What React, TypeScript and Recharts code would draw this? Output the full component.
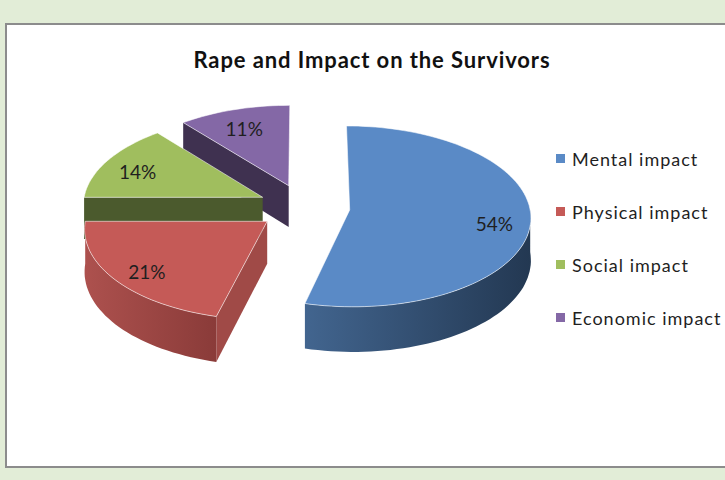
import { Legend, Pie, PieChart } from 'recharts'

// Excel-style exploded 3D pie. Recharts only gives flat sectors, so the pie
// computes the angles and the label renderers project each slice onto a tilted plane.
const categories = ['Mental impact', 'Physical impact', 'Social impact', 'Economic impact']
const shares = [54, 21, 14, 11]

const TOP_COLORS = ['#5A8AC6', '#C55A57', '#A0BE5E', '#8468A6']
const WALL_LIGHT = ['#42658F', '#AD514E', '#55663A', '#4A3A5E']
const WALL_DARK = ['#233852', '#8A3B39', '#44522A', '#3A2D4A']
const EDGE_COLORS = ['#2F4A6E', '#A04A47', '#4B5A2D', '#3F3150']

const data = categories.map((name, i) => ({ name, value: shares[i], idx: i }))
// same slices, walked the other way round, so the walls are painted back to front
const sideData = [...data].reverse()

const CX = 304
const CY = 207
const R = 180
const TILT = 0.5
const PERSP = 0.0004
const DEPTH = 42
const EXPLODE = 46
const RAD = Math.PI / 180
const FONT = "Lato, 'Open Sans', sans-serif"

type Pt = [number, number]

function project(cx: number, cy: number, x: number, y: number, z: number): Pt {
  const s = 1 + PERSP * y
  return [cx + x * s, cy + (y * TILT + z) * s]
}

function toPath(pts: Pt[]): string {
  return pts.map((p, i) => `${i ? 'L' : 'M'}${p[0].toFixed(1)},${p[1].toFixed(1)}`).join('') + 'Z'
}

function sliceIndex(props: any): number {
  if (props.payload && typeof props.payload.idx === 'number') return props.payload.idx
  if (typeof props.idx === 'number') return props.idx
  return props.index
}

function sliceGeometry(props: any) {
  const { cx, cy, outerRadius: r } = props
  const hi = Math.max(props.startAngle, props.endAngle)
  const lo = Math.min(props.startAngle, props.endAngle)
  const mid = ((hi + lo) / 2) * RAD
  const ox = EXPLODE * Math.cos(mid)
  const oy = -EXPLODE * Math.sin(mid)
  const onRim = (a: number, z: number) =>
    project(cx, cy, ox + r * Math.cos(a * RAD), oy - r * Math.sin(a * RAD), z)
  const arc = (from: number, to: number, z: number) => {
    const n = Math.max(2, Math.ceil(Math.abs(to - from) / 2))
    const pts: Pt[] = []
    for (let k = 0; k <= n; k++) pts.push(onRim(from + ((to - from) * k) / n, z))
    return pts
  }
  const center = (z: number) => project(cx, cy, ox, oy, z)
  return { hi, lo, r, ox, oy, mid, onRim, arc, center }
}

function renderSides(props: any) {
  const i = sliceIndex(props)
  const g = sliceGeometry(props)
  const walls = []
  // radial walls that face the viewer
  const radial = (a: number) => [g.center(0), g.onRim(a, 0), g.onRim(a, DEPTH), g.center(DEPTH)] as Pt[]
  if (Math.cos(g.hi * RAD) < -0.01) walls.push(<path key="w0" d={toPath(radial(g.hi))} fill={EDGE_COLORS[i]} />)
  if (Math.cos(g.lo * RAD) > 0.01) walls.push(<path key="w1" d={toPath(radial(g.lo))} fill={EDGE_COLORS[i]} />)
  // outer rim: only the front half of the turn
  for (const [fLo, fHi] of [
    [-180, 0],
    [180, 360],
  ]) {
    const top = Math.min(g.hi, fHi)
    const bottom = Math.max(g.lo, fLo)
    if (top > bottom) {
      const pts = [...g.arc(top, bottom, 0), ...g.arc(bottom, top, DEPTH)]
      walls.push(<path key={`rim${fLo}`} d={toPath(pts)} fill={`url(#rim-${i})`} />)
    }
  }
  return (
    <g key={`side-${i}`}>
      <defs>
        <linearGradient id={`rim-${i}`} x1="0" y1="0" x2="1" y2="0">
          <stop offset="0%" stopColor={WALL_LIGHT[i]} />
          <stop offset="100%" stopColor={WALL_DARK[i]} />
        </linearGradient>
      </defs>
      {walls}
    </g>
  )
}

function renderTop(props: any) {
  const i = sliceIndex(props)
  const g = sliceGeometry(props)
  const face = [g.center(0), ...g.arc(g.hi, g.lo, 0)]
  const f = 0.8 * g.r
  const [lx, ly] = project(
    props.cx,
    props.cy,
    g.ox + f * Math.cos(g.mid),
    g.oy - f * Math.sin(g.mid),
    0,
  )
  return (
    <g key={`top-${i}`}>
      <path d={toPath(face)} fill={TOP_COLORS[i]} stroke="rgba(255,255,255,0.55)" strokeWidth={1} />
      <text
        x={lx}
        y={ly + 4}
        textAnchor="middle"
        dominantBaseline="central"
        fontFamily={FONT}
        fontSize={19}
        fill="#1f1f1f"
      >
        {`${shares[i]}%`}
      </text>
    </g>
  )
}

function renderLegend() {
  return (
    <div style={{ fontFamily: FONT, fontSize: 18, letterSpacing: 1, color: '#1f1f1f' }}>
      {categories.map((name, i) => (
        <div key={name} style={{ display: 'flex', alignItems: 'center', height: 53 }}>
          <span
            style={{ display: 'inline-block', width: 9, height: 9, background: TOP_COLORS[i], marginRight: 7 }}
          />
          <span style={{ whiteSpace: 'nowrap' }}>{name}</span>
        </div>
      ))}
    </div>
  )
}

export default function App() {
  return (
    <div
      style={{
        position: 'absolute',
        left: 0,
        top: 0,
        width: 725,
        height: 480,
        background: '#E2EDD7',
        overflow: 'hidden',
      }}
    >
      <div
        style={{
          position: 'absolute',
          left: 5,
          top: 23,
          width: 760,
          height: 441,
          background: '#fff',
          border: '2px solid #8C8C8C',
        }}
      />
      <div
        style={{
          position: 'absolute',
          left: 122,
          top: 46,
          width: 500,
          textAlign: 'center',
          fontFamily: FONT,
          fontWeight: 700,
          fontSize: 22,
          letterSpacing: 0.9,
          color: '#111',
        }}
      >
        Rape and Impact on the Survivors
      </div>
      <div style={{ position: 'absolute', left: 0, top: 0 }}>
        <PieChart width={725} height={480} margin={{ top: 0, right: 0, bottom: 0, left: 0 }}>
          <Pie
            data={sideData}
            dataKey="value"
            nameKey="name"
            cx={CX}
            cy={CY}
            outerRadius={R}
            startAngle={90}
            endAngle={450}
            fill="transparent"
            stroke="none"
            label={renderSides}
            labelLine={false}
            legendType="none"
            isAnimationActive={false}
          />
          <Pie
            data={data}
            dataKey="value"
            nameKey="name"
            cx={CX}
            cy={CY}
            outerRadius={R}
            startAngle={90}
            endAngle={-270}
            fill="transparent"
            stroke="none"
            label={renderTop}
            labelLine={false}
            isAnimationActive={false}
          />
          <Legend
            layout="vertical"
            align="right"
            verticalAlign="middle"
            content={renderLegend}
            wrapperStyle={{ left: 556, top: 132, width: 170 }}
          />
        </PieChart>
      </div>
    </div>
  )
}
